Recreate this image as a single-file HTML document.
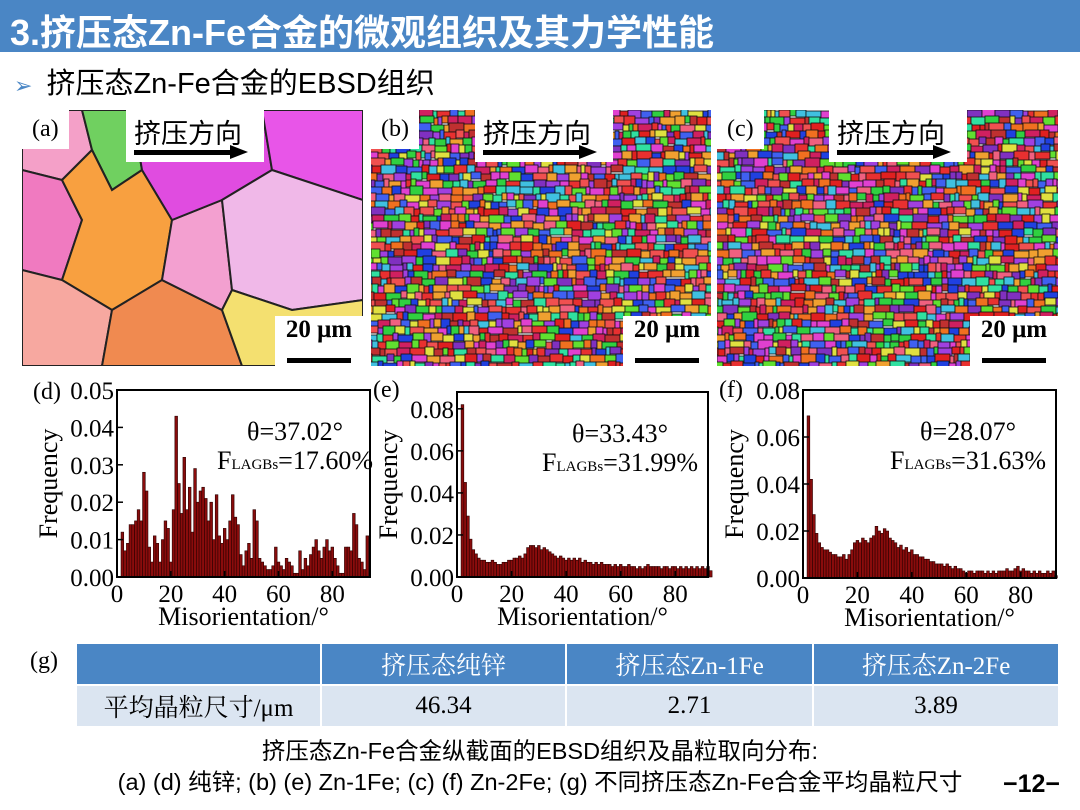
<!DOCTYPE html>
<html><head><meta charset="utf-8">
<style>
body{margin:0;width:1080px;height:810px;overflow:hidden;background:#fff;position:relative;font-family:"Liberation Sans","Noto Sans CJK SC",sans-serif}
.abs{position:absolute}
#hdr{left:0;top:0;width:1080px;height:52px;background:#4a86c5}
#title{left:10px;top:4px;color:#fff;font-weight:bold;font-size:36px;white-space:nowrap}
#sub{left:14px;top:60px;font-size:29px;color:#000;white-space:nowrap}
#sub span{color:#4a86c5;font-size:22px;margin-right:14px}
.img{position:absolute;top:110px;height:256px;overflow:hidden}
.lab{position:absolute;left:0;top:0;background:#fff;font-family:"Liberation Serif",serif;font-size:24px;padding:6px 10px 6px 10px}
.dir{position:absolute;top:0;background:#fff;font-family:"Liberation Sans","Noto Sans CJK SC",sans-serif;font-size:27px;padding:2px 6px 0 8px;height:50px;width:124px}
.dir i{position:absolute;left:8px;top:40px;width:100px;height:5px;background:#000}
.dir b{position:absolute;left:104px;top:35px;border-left:18px solid #000;border-top:7px solid transparent;border-bottom:7px solid transparent}
.sb{position:absolute;right:0;bottom:0;width:88px;height:50px;background:#fff;font-family:"Liberation Serif",serif;font-weight:bold;font-size:25px;text-align:center}
.sb i{position:absolute;left:12px;bottom:3px;width:64px;height:5px;background:#000}
table{position:absolute;left:75px;top:642px;border-collapse:separate;border-spacing:2px;font-family:"Liberation Serif","Noto Serif CJK SC",serif;font-size:25px}
td{height:40px;text-align:center;padding:0}
.h td{background:#4a86c5;color:#fff}
.r td{background:#dbe5f1;color:#000}
#cap{left:0;width:1080px;top:736px;text-align:center;font-size:23.5px;line-height:31px;white-space:nowrap}
</style></head><body>
<div class="abs" id="hdr"></div>
<div class="abs" id="title">3.挤压态Zn-Fe合金的微观组织及其力学性能</div>
<div class="abs" id="sub"><span>➢</span>挤压态Zn-Fe合金的EBSD组织</div>

<div class="img" style="left:22px;width:341px">
<svg width="341" height="256">
<rect width="341" height="256" fill="#e9b6e9"/>
<polygon points="0,0 60,0 70,40 40,70 0,60" fill="#f4a0c8" stroke="#222" stroke-width="2"/>
<polygon points="0,60 40,70 60,110 40,170 0,160" fill="#f07ac0" stroke="#222" stroke-width="2"/>
<polygon points="60,0 110,0 120,60 90,80 70,40" fill="#70d060" stroke="#222" stroke-width="2"/>
<polygon points="40,70 70,40 90,80 120,60 150,110 140,170 90,200 40,170 60,110" fill="#f8a040" stroke="#222" stroke-width="2"/>
<polygon points="0,160 40,170 90,200 80,256 0,256" fill="#f7a8a0" stroke="#222" stroke-width="2"/>
<polygon points="90,200 140,170 200,200 220,256 80,256" fill="#f08a50" stroke="#222" stroke-width="2"/>
<polygon points="150,110 200,90 210,180 200,200 140,170" fill="#f3a0d0" stroke="#222" stroke-width="2"/>
<polygon points="110,0 240,0 250,60 200,90 150,110 120,60" fill="#e04ce0" stroke="#222" stroke-width="2"/>
<polygon points="240,0 341,0 341,90 250,60" fill="#e855e8" stroke="#222" stroke-width="2"/>
<polygon points="200,90 250,60 341,90 341,190 270,200 210,180" fill="#f0b8e8" stroke="#222" stroke-width="2"/>
<polygon points="210,180 270,200 341,190 341,256 220,256 200,200" fill="#f4e070" stroke="#222" stroke-width="2"/>
</svg>
<div class="lab">(a)</div>
<div class="dir" style="left:104px">挤压方向<i></i><b></b></div>
<div class="sb">20 μm<i></i></div>
</div>
<div class="img" style="left:371px;width:340px">
<svg id="mb" width="340" height="256"></svg>
<div class="lab">(b)</div>
<div class="dir" style="left:104px">挤压方向<i></i><b></b></div>
<div class="sb">20 μm<i></i></div>
</div>
<div class="img" style="left:717px;width:341px">
<svg id="mc" width="341" height="256"></svg>
<div class="lab">(c)</div>
<div class="dir" style="left:112px">挤压方向<i></i><b></b></div>
<div class="sb">20 μm<i></i></div>
</div>

<svg id="charts" class="abs" style="left:0;top:0" width="1080" height="640" font-family="Liberation Serif,serif"></svg>

<div class="abs" style="left:30px;top:648px;font-family:'Liberation Serif',serif;font-size:24px">(g)</div>
<table>
<tr class="h"><td style="width:243px"></td><td style="width:243px">挤压态纯锌</td><td style="width:245px">挤压态Zn-1Fe</td><td style="width:244px">挤压态Zn-2Fe</td></tr>
<tr class="r"><td>平均晶粒尺寸/μm</td><td>46.34</td><td>2.71</td><td>3.89</td></tr>
</table>
<div class="abs" id="cap">挤压态Zn-Fe合金纵截面的EBSD组织及晶粒取向分布:<br>(a) (d) 纯锌; (b) (e) Zn-1Fe; (c) (f) Zn-2Fe; (g) 不同挤压态Zn-Fe合金平均晶粒尺寸</div>
<div class="abs" style="left:1003px;top:770px;font-size:25px;font-weight:bold">−12−</div>

<script>
const binStart = 2;
const dValues = [0.012,0.007,0.009,0.014,0.014,0.015,0.018,0.015,0.028,0.023,0.008,0.004,0.011,0.009,0.004,0.010,0.015,0.013,0.004,0.018,0.043,0.025,0.017,0.032,0.018,0.024,0.012,0.029,0.020,0.023,0.024,0.021,0.015,0.020,0.010,0.022,0.011,0.009,0.013,0.010,0.015,0.022,0.016,0.014,0.006,0.003,0.007,0.009,0.005,0.018,0.015,0.005,0.004,0.003,0.002,0.002,0.003,0.008,0.004,0.003,0.002,0.005,0.004,0.003,0.001,0.001,0.007,0.002,0.005,0.003,0.006,0.008,0.010,0.007,0.005,0.008,0.010,0.007,0.008,0.005,0.003,0.001,0.001,0.008,0.008,0.007,0.017,0.014,0.005,0.004,0.002,0.011];
const eValues = [0.082,0.045,0.029,0.018,0.013,0.011,0.009,0.008,0.008,0.007,0.007,0.008,0.007,0.006,0.006,0.007,0.007,0.008,0.008,0.009,0.009,0.010,0.009,0.011,0.014,0.015,0.015,0.014,0.015,0.013,0.014,0.013,0.012,0.011,0.010,0.009,0.010,0.009,0.008,0.009,0.008,0.009,0.008,0.009,0.007,0.008,0.007,0.007,0.006,0.007,0.006,0.007,0.006,0.006,0.006,0.005,0.006,0.005,0.006,0.005,0.005,0.006,0.005,0.005,0.004,0.005,0.004,0.005,0.006,0.005,0.005,0.005,0.005,0.004,0.005,0.005,0.004,0.005,0.005,0.004,0.005,0.004,0.005,0.004,0.005,0.004,0.005,0.004,0.005,0.004,0.005,0.003];
const fValues = [0.069,0.042,0.027,0.019,0.015,0.013,0.012,0.012,0.011,0.010,0.010,0.009,0.009,0.010,0.008,0.010,0.012,0.015,0.016,0.015,0.017,0.016,0.015,0.017,0.018,0.022,0.020,0.019,0.021,0.020,0.017,0.016,0.015,0.013,0.014,0.012,0.013,0.011,0.012,0.010,0.010,0.009,0.009,0.008,0.008,0.007,0.007,0.006,0.006,0.006,0.005,0.006,0.005,0.004,0.005,0.004,0.004,0.003,0.002,0.003,0.003,0.002,0.003,0.003,0.003,0.002,0.003,0.002,0.003,0.002,0.003,0.003,0.003,0.004,0.003,0.003,0.004,0.005,0.003,0.004,0.003,0.003,0.002,0.003,0.002,0.003,0.002,0.002,0.003,0.002,0.003,0.001];
const xTicks = [0,20,40,60,80];
const dYTicks = [0,0.01,0.02,0.03,0.04,0.05];
const eYTicks = [0,0.02,0.04,0.06,0.08];
const fYTicks = [0,0.02,0.04,0.06,0.08];
const NS = "http://www.w3.org/2000/svg";
const svg = document.getElementById('charts');
function mk(tag, attrs, parent){const e=document.createElementNS(NS,tag);for(const k in attrs)e.setAttribute(k,attrs[k]);(parent||svg).appendChild(e);return e;}
function txt(x,y,s,size,anchor,parent){const t=mk('text',{x:x,y:y,'font-size':size,'text-anchor':anchor||'start'},parent);t.textContent=s;return t;}
function chart(name,L,R,T,B,xMax,yMax,vals,yTicks,yDec,label,labelY,theta,flag,tx){
  const g=mk('g',{});
  
  
  const xs=v=>L+(v/xMax)*(R-L), ys=v=>B-(v/yMax)*(B-T);
  vals.forEach((v,i)=>{
    const x0=xs(binStart+i-0.5), x1=xs(binStart+i+0.5);
    const r=mk('rect',{x:x0,y:ys(v),width:x1-x0,height:B-ys(v),fill:'#8a0c0c',stroke:'#2a0000','stroke-width':0.6},g);
    
    
  });
  mk('rect',{x:L,y:T,width:R-L,height:B-T,fill:'none',stroke:'#000','stroke-width':2},g);
  yTicks.forEach(v=>{mk('line',{x1:L,x2:L+6,y1:ys(v),y2:ys(v),stroke:'#000','stroke-width':1.5},g);
    const t=txt(L-3,ys(v)+9,v.toFixed(yDec),25,'end',g);});
  xTicks.forEach(v=>{mk('line',{x1:xs(v),x2:xs(v),y1:B,y2:B-6,stroke:'#000','stroke-width':1.5},g);
    const t=txt(xs(v),B+25,String(v),25,'middle',g);});
  const lb=txt(L-84,labelY,label,24,'start',g);
  const yt=txt(0,0,'Frequency',26,'middle',g);yt.setAttribute('transform','translate('+(L-60)+','+((T+B)/2)+') rotate(-90)');
  
  const xt=txt((L+R)/2,B+48,'Misorientation/°',26,'middle',g);
  const th=txt(tx,T+50,theta,26,'middle',g);
  const f=mk('text',{x:tx,y:T+79,'font-size':26,'text-anchor':'middle'},g);
  f.innerHTML='F<tspan font-size="15">LAGBs</tspan>='+flag;
  
}
chart('d',117,370,390,577,94,0.05,dValues,dYTicks,2,'(d)',399,'θ=37.02°','17.60%',295);
chart('e',457,708,392,577,92,0.088,eValues,eYTicks,2,'(e)',397,'θ=33.43°','31.99%',620);
chart('f',803,1056,390,578,93,0.08,fValues,fYTicks,2,'(f)',397,'θ=28.07°','31.63%',968);

// EBSD mosaic textures (decorative, deterministic)
const pal=['#e83030','#f05050','#d02060','#30d040','#60e030','#2040e0','#4060f0','#a040e0','#e040d0','#f0a030','#f07020','#40c0e0','#e0e040','#f06080','#8030c0','#30e0a0','#e02020','#c03030'];
function mosaic(id,w,h,seed){
  const m=document.getElementById(id);let s=seed;const rnd=()=>{s=(s*1103515245+12345)%2147483648;return s/2147483648;};
  const ch=7;
  for(let y=0;y<h;y+=ch){for(let x=-Math.floor(rnd()*8);x<w;){const ww=4+Math.floor(rnd()*12);
    const r=document.createElementNS(NS,'rect');r.setAttribute('x',x);r.setAttribute('y',y+Math.floor(rnd()*3)-1);r.setAttribute('width',ww);r.setAttribute('height',ch+Math.floor(rnd()*4));
    r.setAttribute('fill',pal[Math.floor(rnd()*pal.length)]);r.setAttribute('stroke','#111');r.setAttribute('stroke-width','0.8');m.appendChild(r);x+=ww;}}
}
mosaic('mb',340,256,7);mosaic('mc',341,256,31);
</script>
</body></html>
